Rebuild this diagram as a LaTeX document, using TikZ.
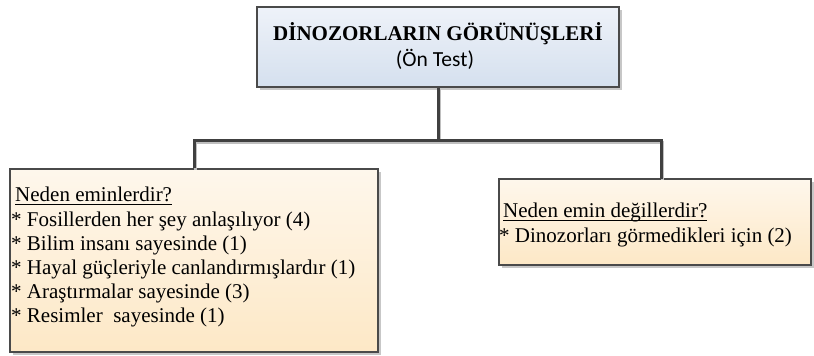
\documentclass[tikz,border=0pt]{standalone}
\usepackage{fontspec}
\setmainfont{Liberation Serif}
\newfontfamily\calib{Carlito}
\usetikzlibrary{shadows}

% underline at a fixed depth below the baseline
\newcommand{\undl}[1]{\setbox0\hbox{#1}\rlap{\rule[-2.6pt]{\wd0}{0.8pt}}\box0}

\definecolor{edge}{HTML}{4A4A4A}
\definecolor{wire}{HTML}{404040}
\definecolor{bluetop}{HTML}{EEF2F9}
\definecolor{bluebot}{HTML}{D5E0EE}
\definecolor{creamtop}{HTML}{FEF7EC}
\definecolor{creambot}{HTML}{FDE8C6}

\tikzset{
  x=1pt, y=1pt,
  panel/.style={draw=edge, line width=1.1pt, inner sep=0, rectangle,
    general shadow={fill=black!22, shadow xshift=3pt, shadow yshift=-3pt}},
  titlebox/.style={panel, top color=bluetop, bottom color=bluebot},
  notebox/.style={panel, top color=creamtop, bottom color=creambot},
  txt/.style={anchor=base west, inner sep=0, font=\fontsize{21}{24}\selectfont},
  wireline/.style={draw=wire, line width=3pt},
  wireshade/.style={draw=black!25, line width=3pt, transform canvas={shift={(1.5pt,-1.5pt)}}}
}

\begin{document}
\begin{tikzpicture}
\useasboundingbox (0,0) rectangle (814,356);

% boxes
\node[titlebox, minimum width=362, minimum height=80] (top) at (438,309) {};
\node[notebox, minimum width=368, minimum height=183] (left) at (194,95.5) {};
\node[notebox, minimum width=312, minimum height=86] (right) at (655,134) {};

% title
\node[anchor=base, inner sep=0, font=\fontsize{21}{24}\selectfont\bfseries] (title) at (438,315) {DİNOZORLARIN GÖRÜNÜŞLERİ};
\node[anchor=base, inner sep=0, font=\fontsize{21.5}{24}\selectfont\calib] (sub) at (435,289) {(Ön Test)};

% connectors
\coordinate (bus) at (438,215);
\coordinate (rdrop) at (661,177);
\draw[wireshade] (top.south) -- (bus);
\draw[wireshade] (left.north) |- (bus) -| (rdrop);
\draw[wireline] (top.south) -- (bus);
\draw[wireline] (left.north) |- (bus) -| (rdrop);

% left box text
\node[txt] (l0) at (15,154) {\undl{Neden eminlerdir?}};
\node[txt] (l1) at (11,129.5) {* Fosillerden her şey anlaşılıyor (4)};
\node[txt] (l2) at (11,105) {* Bilim insanı sayesinde (1)};
\node[txt] (l3) at (11,81) {* Hayal güçleriyle canlandırmışlardır (1)};
\node[txt] (l4) at (11,57) {* Araştırmalar sayesinde (3)};
\node[txt] (l5) at (11,33) {* Resimler\ \ sayesinde (1)};

% right box text
\node[txt] (r0) at (503,138) {\undl{Neden emin değillerdir?}};
\node[txt] (r1) at (499,113) {* Dinozorları görmedikleri için (2)};
\end{tikzpicture}
\end{document}
